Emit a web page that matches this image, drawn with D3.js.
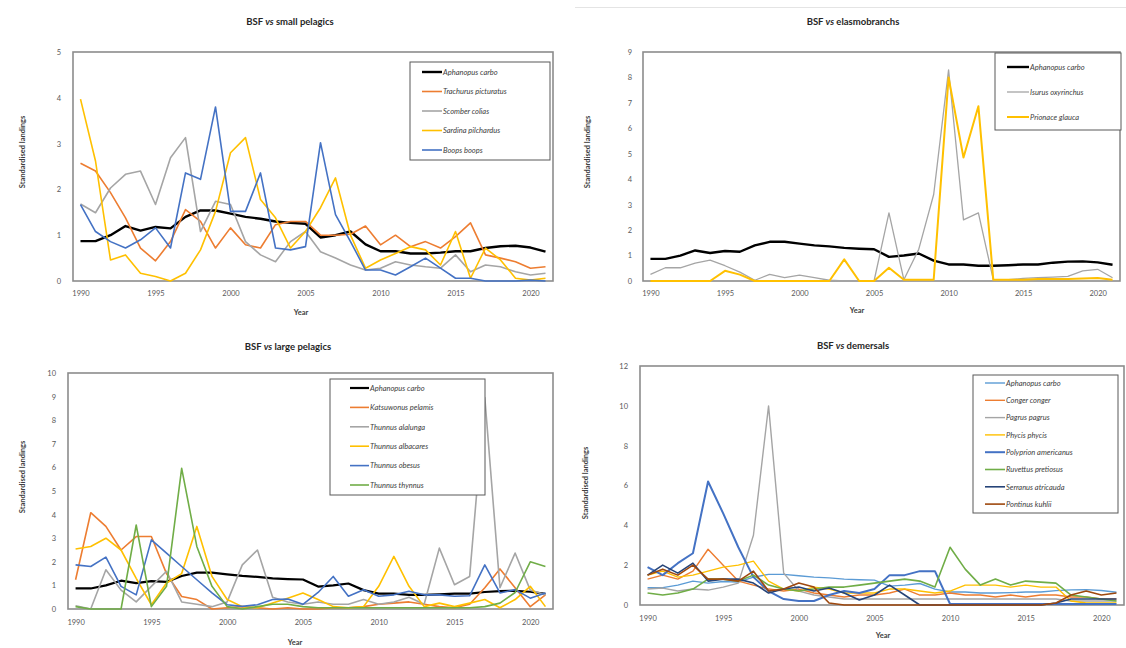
<!DOCTYPE html>
<html><head><meta charset="utf-8">
<script src="https://cdn.jsdelivr.net/npm/d3@7"></script>
<style>
body{margin:0;background:#fff;}
svg{display:block;font-family:Lato,"Open Sans",sans-serif;}
</style></head>
<body><svg id="c" width="1126" height="648"></svg>
<script>
const years = [1990,1991,1992,1993,1994,1995,1996,1997,1998,1999,2000,2001,2002,2003,2004,2005,2006,2007,2008,2009,2010,2011,2012,2013,2014,2015,2016,2017,2018,2019,2020,2021];
const xTickLabels = [1990,1995,2000,2005,2010,2015,2020];

const aphanopus = [0.87,0.87,1.0,1.2,1.1,1.18,1.15,1.4,1.54,1.54,1.47,1.4,1.36,1.3,1.27,1.25,0.95,1.0,1.08,0.8,0.65,0.65,0.6,0.6,0.62,0.65,0.65,0.72,0.76,0.77,0.73,0.64];

// small pelagics
const trachurus = [2.57,2.4,1.93,1.38,0.72,0.44,0.86,1.56,1.3,0.72,1.16,0.79,0.72,1.23,1.3,1.3,1.0,1.0,1.02,1.2,0.79,1.0,0.75,0.86,0.72,0.97,1.27,0.57,0.5,0.42,0.28,0.31];
const scomber = [1.68,1.49,2.03,2.33,2.4,1.67,2.69,3.13,1.08,1.74,1.67,0.86,0.57,0.42,0.86,1.08,0.64,0.5,0.35,0.24,0.28,0.42,0.35,0.31,0.28,0.57,0.2,0.35,0.31,0.2,0.13,0.17];
const sardina = [3.97,2.62,0.46,0.57,0.17,0.1,0.0,0.17,0.68,1.52,2.8,3.13,1.78,1.38,0.72,1.08,1.6,2.25,1.0,0.28,0.46,0.6,0.75,0.68,0.35,1.08,0.06,0.72,0.46,0.06,0.02,0.06];
const boops = [1.67,1.08,0.86,0.72,0.9,1.16,0.72,2.36,2.22,3.8,1.52,1.52,2.36,0.72,0.68,0.75,3.02,1.45,0.86,0.24,0.24,0.13,0.31,0.5,0.28,0.06,0.06,0,0,0,0.02,0];

// elasmobranchs
const isurus = [0.26,0.52,0.52,0.7,0.82,0.6,0.35,0.03,0.26,0.13,0.23,0.13,0.03,0,0,0,2.68,0.05,1.25,3.4,8.3,2.4,2.68,0.05,0.05,0.1,0.13,0.15,0.18,0.4,0.46,0.13];
const prionace = [0,0,0,0,0,0.4,0.25,0,0,0,0,0,0,0.85,0,0,0.52,0.05,0.05,0.05,8.0,4.85,6.87,0.05,0.05,0.05,0.08,0.08,0.08,0.1,0.12,0.05];

// large pelagics
const katsuwonus = [1.24,4.08,3.5,2.5,3.07,3.07,1.5,0.53,0.4,0,0.05,0.1,0.05,0,0.05,0,0,0.05,0.05,0.1,0.2,0.25,0.3,0.2,0.1,0.05,0.2,0.9,1.7,0.9,0.1,0.6];
const alalunga = [0.14,0,1.66,0.8,0.3,0.96,1.6,0.3,0.2,0.1,0.3,1.87,2.5,0.5,0.3,0.2,0.3,0.2,0.2,0.4,0.2,0.3,0.5,0.2,2.58,1.03,1.38,8.96,0.9,2.37,0.8,0.6];
const albacares = [2.54,2.65,3.0,2.5,1.3,0.18,1.1,1.5,3.5,1.38,0.4,0.1,0.05,0.25,0.46,0.68,0.4,0.1,0.05,0.1,0.96,2.23,0.96,0.1,0.25,0.1,0.25,0.4,0.05,0.4,0.96,0.1];
const obesus = [1.87,1.8,2.2,0.96,0.6,2.93,2.37,1.8,1.24,0.68,0.18,0.11,0.18,0.4,0.42,0.2,0.7,1.38,0.54,0.82,0.54,0.6,0.75,0.6,0.6,0.54,0.56,1.87,0.68,0.82,0.46,0.68];
const thynnus = [0.1,0,0,0,3.56,0.1,0.96,5.96,2.65,0.96,0.1,0,0.1,0.2,0.2,0.1,0.05,0.05,0.05,0.05,0.05,0.05,0.05,0.05,0.05,0.05,0.05,0.1,0.25,0.7,2.0,1.8];

// demersals
const conger = [1.3,1.5,1.3,1.7,2.8,2.0,1.2,1.0,0.8,0.7,0.8,0.6,0.5,0.4,0.5,0.5,0.6,0.8,0.5,0.5,0.6,0.5,0.5,0.4,0.5,0.4,0.5,0.5,0.4,0.4,0.3,0.3];
const pagrus = [0.8,0.85,0.7,0.8,0.75,0.9,1.1,3.5,10.0,1.6,0.7,0.5,0.4,0.3,0.3,0.3,0.3,0.3,0.3,0.3,0.3,0.3,0.3,0.3,0.3,0.3,0.3,0.3,0.2,0.2,0.2,0.2];
const phycis = [1.5,1.7,1.4,1.5,1.7,1.9,2.0,2.2,1.2,0.8,0.7,0.9,0.8,0.6,0.6,0.6,0.8,0.8,0.7,0.6,0.7,1.0,1.0,1.0,0.9,1.0,0.9,0.9,0.2,0.1,0.1,0.1];
const polyprion = [1.9,1.5,2.1,2.6,6.2,4.6,2.9,1.4,0.7,0.3,0.2,0.2,0.5,0.7,0.6,0.8,1.5,1.5,1.7,1.7,0.05,0.05,0.05,0.05,0.05,0.05,0.05,0.05,0.05,0.05,0.05,0.05];
const ruvettus = [0.6,0.5,0.6,0.8,1.3,1.3,1.2,1.5,1.0,0.8,0.7,0.8,0.9,0.9,1.0,1.1,1.2,1.3,1.2,0.9,2.9,1.8,1.0,1.3,1.0,1.2,1.15,1.1,0.5,0.4,0.3,0.2];
const serranus = [1.5,2.0,1.6,2.1,1.2,1.3,1.3,1.1,0.6,0.8,0.9,0.7,0.85,0.6,0.25,0.5,1.0,0.5,0,0,0,0,0,0,0,0,0,0.1,0.3,0.3,0.3,0.3];
const pontinus = [1.5,1.8,1.5,2.0,1.3,1.3,1.2,1.7,0.7,0.8,1.1,0.9,0.1,0,0,0,0,0,0,0,0,0,0,0,0,0,0,0.1,0.5,0.7,0.5,0.6];

const C = {black:"#000000", orange:"#ED7D31", grey:"#A5A5A5", yellow:"#FFC000", blue:"#4472C4", lblue:"#5B9BD5", green:"#70AD47", navy:"#264478", brown:"#9E480E"};

const svg = d3.select("#c");
svg.append("line").attr("x1",575).attr("x2",1126).attr("y1",7.5).attr("y2",7.5).attr("stroke","#e4e4e4").attr("stroke-width",1);

function panel(cfg){
  const g = svg.append("g");
  const x = d3.scalePoint().domain(years).range([cfg.left, cfg.right]).padding(0.5);
  const y = d3.scaleLinear().domain([0, cfg.ymax]).range([cfg.bottom, cfg.top]);
  const t = g.append("text").attr("x", cfg.tx).attr("y", cfg.ty).attr("text-anchor","middle")
    .attr("font-size", 9.5).attr("font-weight","bold").attr("fill","#262626");
  t.append("tspan").text("BSF ");
  t.append("tspan").attr("font-style","italic").text("vs");
  t.append("tspan").text(" " + cfg.title);
  const yAxis = d3.axisLeft(y).tickValues(d3.range(0, cfg.ymax + 0.001, cfg.ystep)).tickFormat(d3.format("d")).tickSize(0).tickPadding(cfg.ypad);
  g.append("g").attr("transform", `translate(${cfg.left},0)`).call(yAxis)
    .call(s => s.select(".domain").remove())
    .call(s => s.selectAll("text").attr("font-size",7.5).attr("fill","#595959").attr("font-family","Lato,sans-serif"));
  const xAxis = d3.axisBottom(x).tickValues(xTickLabels).tickSize(0).tickPadding(cfg.xpad);
  g.append("g").attr("transform", `translate(0,${cfg.bottom})`).call(xAxis)
    .call(s => s.select(".domain").remove())
    .call(s => s.selectAll("text").attr("font-size",7.5).attr("fill","#595959").attr("font-family","Lato,sans-serif"));
  g.append("text").attr("transform", `translate(${cfg.ytx},${cfg.yty}) rotate(-90)`).attr("text-anchor","middle")
    .attr("font-size",7.5).attr("font-weight","bold").attr("fill","#404040").text("Standardised landings");
  g.append("text").attr("x", cfg.xtx).attr("y", cfg.xty).attr("text-anchor","middle")
    .attr("font-size",7.5).attr("font-weight","bold").attr("fill","#404040").text("Year");
  g.append("rect").attr("x", cfg.left).attr("y", cfg.top).attr("width", cfg.right - cfg.left).attr("height", cfg.bottom - cfg.top)
    .attr("fill","none").attr("stroke","#8c8c8c").attr("stroke-width",1.6);
  const line = d3.line().x((d,i) => x(years[i])).y(d => y(d));
  cfg.series.forEach(s => {
    g.append("path").datum(s.values).attr("d", line).attr("fill","none")
      .attr("stroke", s.color).attr("stroke-width", s.w).attr("stroke-linejoin","round");
  });
  const L = cfg.legend;
  g.append("rect").attr("x", L.x0).attr("y", L.y0).attr("width", L.x1 - L.x0).attr("height", L.y1 - L.y0)
    .attr("fill","#fff").attr("stroke","#595959").attr("stroke-width",1);
  cfg.series.forEach((s, i) => {
    const yy = L.first + i * L.step;
    g.append("line").attr("x1", L.lx0).attr("x2", L.lx1).attr("y1", yy).attr("y2", yy)
      .attr("stroke", s.color).attr("stroke-width", s.w);
    g.append("text").attr("x", L.lx1 + 1).attr("y", yy + 2.7).attr("font-size", 7.5).attr("font-style","italic")
      .attr("fill","#404040").text(s.name);
  });
}

panel({title:"small pelagics", left:73, right:553, top:52, bottom:281, ymax:5, ystep:1, ypad:12, xpad:10,
  tx:290, ty:25, ytx:25, yty:152, xtx:301, xty:315,
  series:[
    {name:"Aphanopus carbo", values:aphanopus, color:C.black, w:2.4},
    {name:"Trachurus picturatus", values:trachurus, color:C.orange, w:1.6},
    {name:"Scomber colias", values:scomber, color:C.grey, w:1.6},
    {name:"Sardina pilchardus", values:sardina, color:C.yellow, w:1.6},
    {name:"Boops boops", values:boops, color:C.blue, w:1.6}],
  legend:{x0:410, x1:550, y0:62, y1:160, first:72, step:19.5, lx0:422, lx1:442}});

panel({title:"elasmobranchs", left:643, right:1120, top:52, bottom:281, ymax:9, ystep:1, ypad:11, xpad:10,
  tx:853, ty:25, ytx:590, yty:152, xtx:857, xty:313,
  series:[
    {name:"Aphanopus carbo", values:aphanopus, color:C.black, w:2.4},
    {name:"Isurus oxyrinchus", values:isurus, color:C.grey, w:1.3},
    {name:"Prionace glauca", values:prionace, color:C.yellow, w:2}],
  legend:{x0:995, x1:1121, y0:53, y1:130, first:67, step:25, lx0:1007, lx1:1029}});

panel({title:"large pelagics", left:68, right:553, top:373, bottom:609, ymax:10, ystep:1, ypad:12, xpad:11,
  tx:288, ty:350, ytx:25, yty:477, xtx:295, xty:645,
  series:[
    {name:"Aphanopus carbo", values:aphanopus, color:C.black, w:2.2},
    {name:"Katsuwonus pelamis", values:katsuwonus, color:C.orange, w:1.6},
    {name:"Thunnus alalunga", values:alalunga, color:C.grey, w:1.6},
    {name:"Thunnus albacares", values:albacares, color:C.yellow, w:1.6},
    {name:"Thunnus obesus", values:obesus, color:C.blue, w:1.6},
    {name:"Thunnus thynnus", values:thynnus, color:C.green, w:1.6}],
  legend:{x0:330, x1:485, y0:379, y1:495, first:388, step:19.4, lx0:350, lx1:369}});

panel({title:"demersals", left:640, right:1124, top:366, bottom:605, ymax:12, ystep:2, ypad:12, xpad:11,
  tx:853, ty:349, ytx:588, yty:483, xtx:883, xty:638,
  series:[
    {name:"Aphanopus carbo", values:aphanopus, color:C.lblue, w:1.4},
    {name:"Conger conger", values:conger, color:C.orange, w:1.4},
    {name:"Pagrus pagrus", values:pagrus, color:C.grey, w:1.4},
    {name:"Phycis phycis", values:phycis, color:C.yellow, w:1.4},
    {name:"Polyprion americanus", values:polyprion, color:C.blue, w:2},
    {name:"Ruvettus pretiosus", values:ruvettus, color:C.green, w:1.6},
    {name:"Serranus atricauda", values:serranus, color:C.navy, w:1.6},
    {name:"Pontinus kuhlii", values:pontinus, color:C.brown, w:1.6}],
  legend:{x0:973, x1:1118, y0:375, y1:513, first:383, step:17.3, lx0:985, lx1:1005}});
</script>
</body></html>
